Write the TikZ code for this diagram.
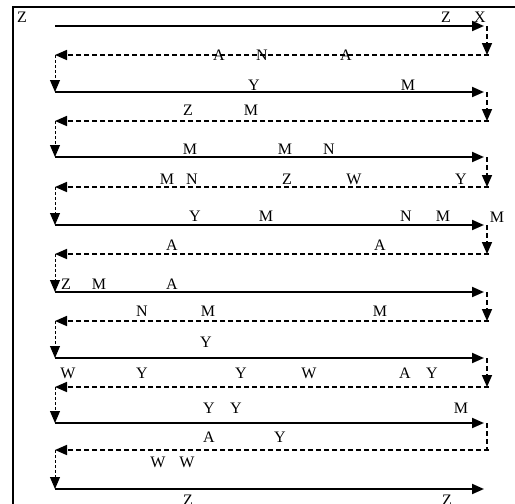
\documentclass[tikz,border=0pt]{standalone}
\usepackage{fontspec}
\setmainfont{Liberation Serif}
\usetikzlibrary{arrows.meta}
\begin{document}
\begin{tikzpicture}[x=1pt,y=-1pt,
  lbl/.style={font=\fontsize{16}{16}\selectfont, inner sep=0pt, anchor=base},
  frameline/.style={line width=2pt},
  solidarrow/.style={line width=2pt, -{Triangle[length=12pt,width=10pt]}},
  dasharrow/.style={line width=1.6pt, dash pattern=on 5pt off 3pt, -{Triangle[length=12pt,width=10pt]}},
  rightdrop/.style={line width=1.6pt, dash pattern=on 5pt off 3pt, -{Triangle[length=12pt,width=10pt]}},
  rightdropplain/.style={line width=1.6pt, dash pattern=on 5pt off 3pt},
  leftdrop/.style={line width=1pt, dash pattern=on 3pt off 2pt, -{Triangle[length=12pt,width=10pt]}}
]
\useasboundingbox (0,0) rectangle (515,504);
\draw[frameline] (13,504) -- (13,7) -- (516,7);

\foreach \i/\y in {1/26,2/92,3/157,4/225,5/292,6/358,7/423,8/489}{
  \coordinate (sL\i) at (55,\y);
  \coordinate (sR\i) at (484,\y);
  \coordinate (vR\i) at (487,\y);
}
\foreach \i/\y in {1/55,2/121,3/187,4/254,5/321,6/387,7/450}{
  \coordinate (dL\i) at (55,\y);
  \coordinate (dR\i) at (489,\y);
  \coordinate (vD\i) at (487,\y);
}

\foreach \i in {1,...,8}{ \draw[solidarrow] (sL\i) -- (sR\i); }
\foreach \i in {1,...,7}{ \draw[dasharrow] (dR\i) -- (dL\i); }
\foreach \i in {1,...,6}{ \draw[rightdrop] (vR\i) -- (vD\i); }
\draw[rightdropplain] (vR7) -- (vD7);
\foreach \i/\j in {1/2,2/3,3/4,4/5,5/6,6/7,7/8}{ \draw[leftdrop] (dL\i) -- (sL\j); }

% row 1
\node[lbl] (t0) at (22,22) {Z};
\node[lbl] (t1a) at (446,22) {Z};
\node[lbl] (t1b) at (480,22) {X};
% dashed 1
\node[lbl] (t2a) at (219,60.5) {A};
\node[lbl] (t2b) at (262,60.5) {N};
\node[lbl] (t2c) at (346,60.5) {A};
% solid 2
\node[lbl] (t3a) at (254,90) {Y};
\node[lbl] (t3b) at (408,90) {M};
% dashed 2
\node[lbl] (t4a) at (188,115) {Z};
\node[lbl] (t4b) at (251,115) {M};
% solid 3
\node[lbl] (t5a) at (190,154) {M};
\node[lbl] (t5b) at (285,154) {M};
\node[lbl] (t5c) at (329,154) {N};
% dashed 3
\node[lbl] (t6a) at (167,184) {M};
\node[lbl] (t6b) at (192,184) {N};
\node[lbl] (t6c) at (287,184) {Z};
\node[lbl] (t6d) at (354,184) {W};
\node[lbl] (t6e) at (461,184) {Y};
% solid 4
\node[lbl] (t7a) at (195,221.5) {Y};
\node[lbl] (t7b) at (266,221.5) {M};
\node[lbl] (t7c) at (406,221.5) {N};
\node[lbl] (t7d) at (443,221.5) {M};
\node[lbl] (t7e) at (497,222) {M};
% dashed 4
\node[lbl] (t8a) at (172,250) {A};
\node[lbl] (t8b) at (380,250) {A};
% solid 5
\node[lbl] (t9a) at (66,289) {Z};
\node[lbl] (t9b) at (99,289) {M};
\node[lbl] (t9c) at (172,289) {A};
% dashed 5
\node[lbl] (t10a) at (142,316) {N};
\node[lbl] (t10b) at (208,316) {M};
\node[lbl] (t10c) at (380,316) {M};
% solid 6
\node[lbl] (t11a) at (206,347) {Y};
% dashed 6
\node[lbl] (t12a) at (68,378) {W};
\node[lbl] (t12b) at (142,378) {Y};
\node[lbl] (t12c) at (241,378) {Y};
\node[lbl] (t12d) at (309,378) {W};
\node[lbl] (t12e) at (405,378) {A};
\node[lbl] (t12f) at (432,378) {Y};
% solid 7
\node[lbl] (t13a) at (209,413) {Y};
\node[lbl] (t13b) at (236,413) {Y};
\node[lbl] (t13c) at (461,413) {M};
% dashed 7
\node[lbl] (t14a) at (209,442) {A};
\node[lbl] (t14b) at (280,442) {Y};
\node[lbl] (t14c) at (158,467) {W};
\node[lbl] (t14d) at (187,467) {W};
% solid 8
\node[lbl] (t15a) at (188,505) {Z};
\node[lbl] (t15b) at (447,505) {Z};
\end{tikzpicture}
\end{document}
